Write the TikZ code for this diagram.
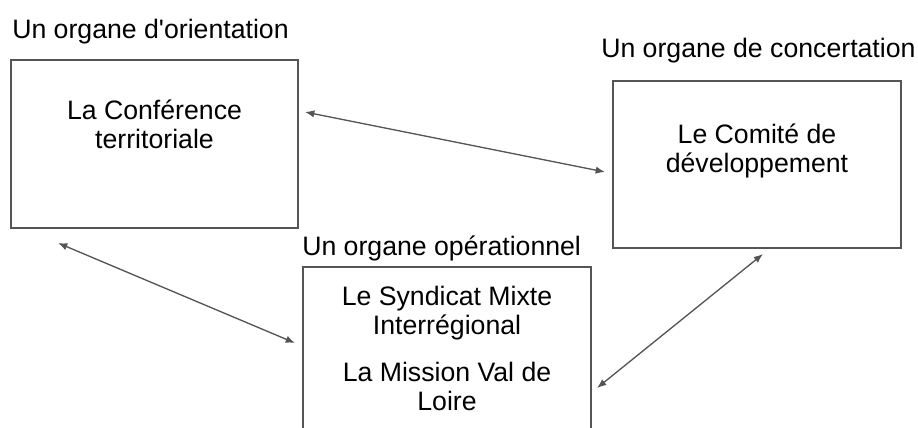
\documentclass[tikz,border=0pt]{standalone}
\usepackage{fontspec}
\setmainfont{Liberation Sans}
\usetikzlibrary{arrows.meta}
\definecolor{trait}{RGB}{85,85,85}

\begin{document}
\begin{tikzpicture}[x=0.75pt, y=-0.75pt,
    cadre/.style={draw=trait, line width=1.3pt, inner sep=0pt, outer sep=0pt},
    titre/.style={anchor=base west, inner sep=0pt, font=\fontsize{20}{22}\selectfont},
    texte/.style={anchor=base, inner sep=0pt, align=center, font=\fontsize{20}{21.5}\selectfont},
    fleche/.style={{Latex[length=7pt,width=5.5pt]}-{Latex[length=7pt,width=5.5pt]}, draw=trait, line width=1pt}]
    \useasboundingbox (0,0) rectangle (918,428);

    % Cadres
    \node[cadre, minimum width=215.25pt, minimum height=126pt] (conf) at (154.5,144) {};
    \node[cadre, minimum width=216pt, minimum height=129.75pt] (syndicat) at (447,353.5) {};
    \node[cadre, minimum width=216pt, minimum height=125.25pt] (comite) at (757,164.5) {};

    % Titres
    \node[titre] (titreconf) at ([shift={(1,-21.5)}]conf.north west) {Un organe d\textquotesingle orientation};
    \node[titre] (titresyndicat) at ([shift={(-1,-12)}]syndicat.north west) {Un organe opérationnel};
    \node[titre] (titrecomite) at ([shift={(-12,-23)}]comite.north west) {Un organe de concertation};

    % Textes des cadres (ancre sur la derniere ligne)
    \node[texte] (txtconf) at (154.5,148) {La Conférence\\territoriale};
    \node[texte] (txtsyndicat) at (447,410) {Le Syndicat Mixte\\Interrégional\\[14pt]La Mission Val de\\Loire};
    \node[texte] (txtcomite) at (757,172) {Le Comité de\\développement};

    % Extrémités des flèches
    \coordinate (confE) at ([shift={(7,52)}]conf.north east);
    \coordinate (confS) at ([shift={(47,15)}]conf.south west);
    \coordinate (comiteO) at ([shift={(-8,91)}]comite.north west);
    \coordinate (comiteS) at ([shift={(150,6)}]comite.south west);
    \coordinate (syndicatO) at ([shift={(-8,76)}]syndicat.north west);
    \coordinate (syndicatE) at ([shift={(6,121)}]syndicat.north east);

    % Flèches
    \draw[fleche] (confE) -- (comiteO);
    \draw[fleche] (confS) -- (syndicatO);
    \draw[fleche] (syndicatE) -- (comiteS);
\end{tikzpicture}
\end{document}
